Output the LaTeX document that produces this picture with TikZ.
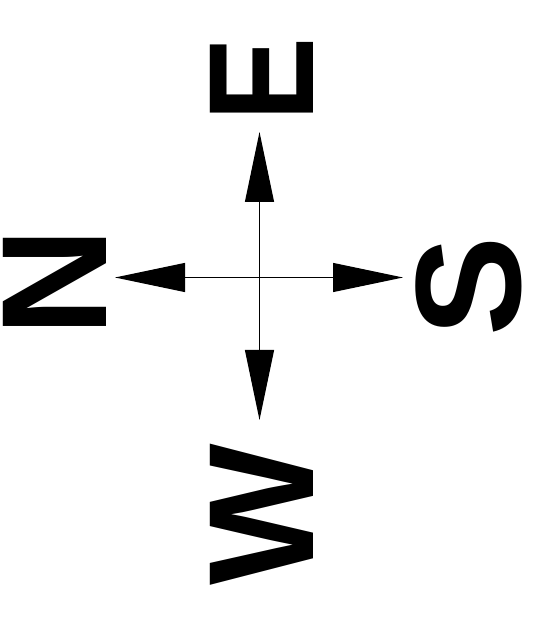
\documentclass[tikz,border=0pt]{standalone}
\usepackage{fontspec}
\setmainfont{Liberation Sans}
\usetikzlibrary{arrows.meta}
\begin{document}
\begin{tikzpicture}[x=1pt,y=1pt,
  letter/.style={font=\fontsize{150}{150}\selectfont\bfseries, rotate=90, inner sep=0pt, anchor=center},
  axis/.style={line width=1.1pt, {Triangle[length=70pt,width=29pt]}-{Triangle[length=70pt,width=29pt]}}]
\useasboundingbox (0,0) rectangle (540,633);
\coordinate (ctr) at (259.5,355.5);
\coordinate (tipE) at (259.5,501);
\coordinate (tipW) at (259.5,213);
\coordinate (tipN) at (115,355.5);
\coordinate (tipS) at (403,355.5);
\node[letter] (E) at (261.5,554) {\scalebox{0.84}[1]{E}};
\node[letter] (N) at (55,350.5) {N};
\node[letter] (S) at (469,347) {S};
\node[letter] (W) at (261.5,118) {W};
\draw[axis] (tipN) -- (tipS);
\draw[axis] (tipW) -- (tipE);
\end{tikzpicture}
\end{document}
